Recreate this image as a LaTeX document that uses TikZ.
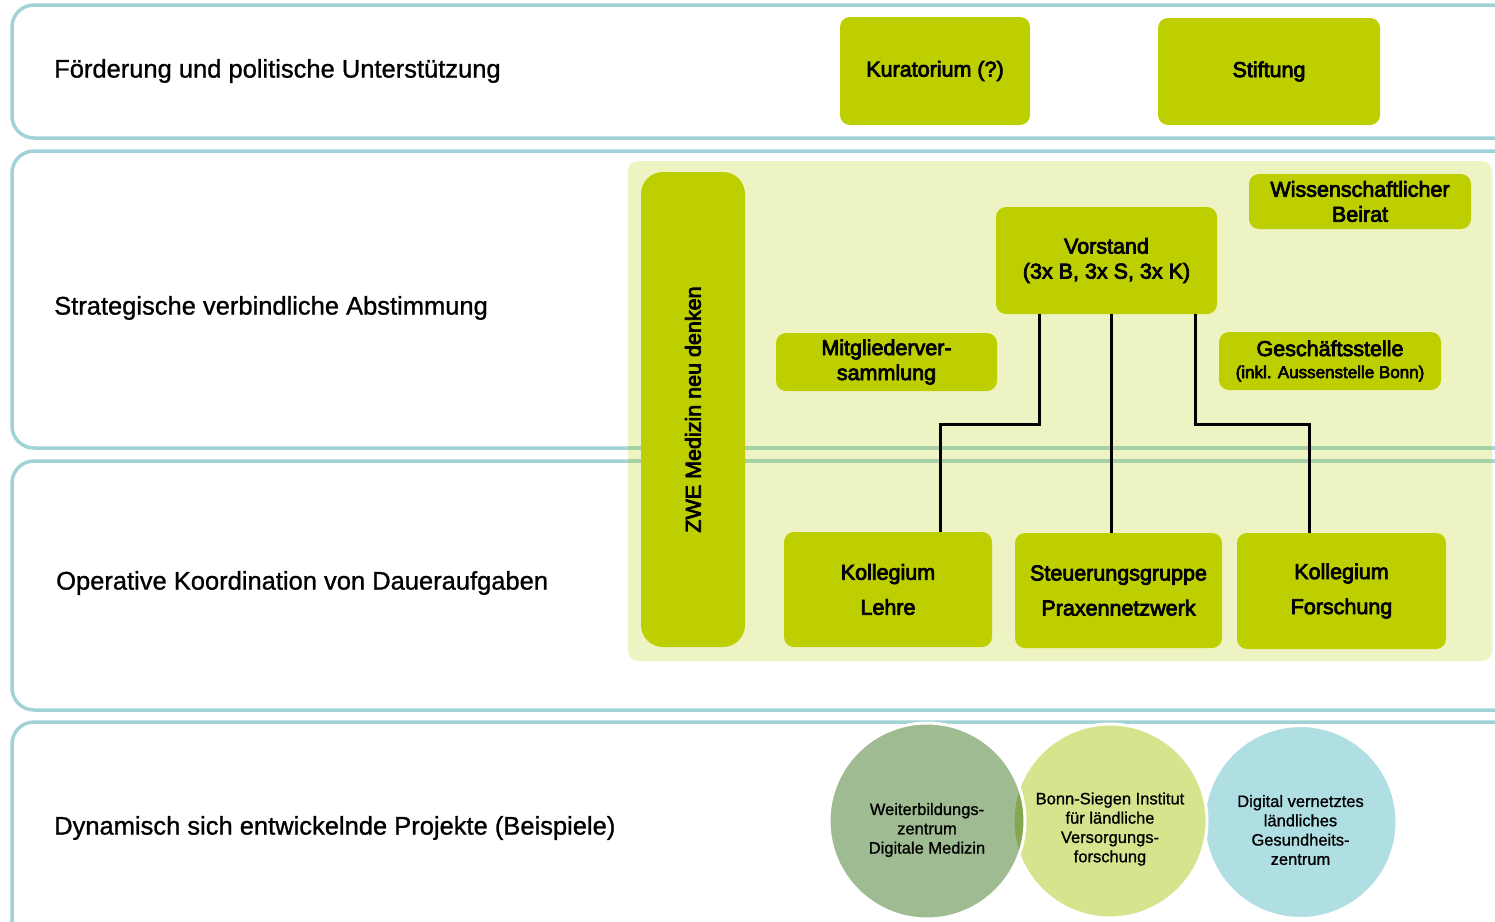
\documentclass[tikz,border=0pt]{standalone}
\usepackage{fontspec}
\setmainfont{Liberation Sans}[FakeBold=1]
\newfontfamily\boxfont[FakeBold=3.5]{Liberation Sans}
\usepackage{xcolor}
\usepackage{tikz}
\usetikzlibrary{positioning, calc}
\definecolor{zwTeal}{RGB}{160, 210, 214}
\definecolor{zwLine}{RGB}{166, 208, 166}
\definecolor{zwGreen}{RGB}{189, 207, 0}
\definecolor{zwPanel}{RGB}{238, 243, 196}
\definecolor{zwSage}{RGB}{159, 187, 145}
\definecolor{zwLime}{RGB}{212, 229, 142}
\definecolor{zwSky}{RGB}{176, 223, 227}
\tikzset{
    band/.style={
        draw=zwTeal,
        line width=3.5pt,
        rounded corners=22pt
    },
    bandlabel/.style={
        anchor=west,
        inner sep=0pt,
        font=\fontsize{25.5}{30}\selectfont
    },
    box/.style={
        rectangle,
        rounded corners=10pt,
        fill=zwGreen,
        align=center,
        inner sep=2pt,
        font=\boxfont\fontsize{21.5}{25}\selectfont
    },
    project/.style={
        circle,
        blend mode=multiply,
        inner sep=0pt
    },
    ring/.style={
        draw=white,
        line width=3pt
    },
    projtext/.style={
        align=center,
        inner sep=0pt,
        font=\fontsize{16.5}{19.3}\selectfont
    },
    conn/.style={
        line width=3pt,
        color=black
    }
}
\begin{document}
\begin{tikzpicture}[x=1pt, y=-1pt]
  \useasboundingbox (0,0) rectangle (1495,921);
  \clip (0,0) rectangle (1495,921);

  % Bands
  \draw[band] (12,5) rectangle (1540,138);
  \draw[band] (12,151) rectangle (1540,448);
  \draw[band] (12,461) rectangle (1540,710);
  \draw[band] (12,722) rectangle (1540,960);

  \node[bandlabel] (lfoerd) at (54,71) {Förderung und politische Unterstützung};
  \node[bandlabel] (lstrat) at (54,308) {Strategische verbindliche Abstimmung};
  \node[bandlabel] (loper) at (56,583) {Operative Koordination von Daueraufgaben};
  \node[bandlabel] (ldyn) at (54,828) {Dynamisch sich entwickelnde Projekte (Beispiele)};

  % Panel
  \fill[zwPanel, rounded corners=10pt] (628,161) rectangle (1492,661);
  \begin{scope}
    \clip[rounded corners=10pt] (628,161) rectangle (1492,661);
    \draw[zwLine, line width=3.5pt] (600,448) -- (1540,448);
    \draw[zwLine, line width=3.5pt] (600,461) -- (1540,461);
  \end{scope}

  % ZWE bar
  \node[box, rounded corners=22pt, minimum width=104pt, minimum height=475pt] (zwe) at (693,409.5) {};
  \node[rotate=90, font=\boxfont\fontsize{21.5}{25}\selectfont] (zwetext) at (zwe.center) {ZWE Medizin neu denken};

  % Top row
  \node[box, minimum width=190pt, minimum height=108pt] (kurat) at (935,71) {Kuratorium (?)};
  \node[box, minimum width=222pt, minimum height=107pt] (stift) at (1269,71.5) {Stiftung};

  % Strategic level
  \node[box, minimum width=222pt, minimum height=55pt] (beirat) at (1360,201.5) {Wissenschaftlicher\\Beirat};
  \node[box, minimum width=221pt, minimum height=107pt] (vorstand) at (1106.5,260.5) {Vorstand\\(3x B, 3x S, 3x K)};
  \node[box, minimum width=221pt, minimum height=58pt] (mitglied) at (886.5,362) {Mitgliederver-\\sammlung};
  \node[box, minimum width=222pt, minimum height=58pt] (gstelle) at (1330,361) {Geschäftsstelle\\[-3pt]{\fontsize{17}{20}\selectfont(inkl. Aussenstelle Bonn)}};

  % Operative level
  \node[box, minimum width=208pt, minimum height=115pt, font=\boxfont\fontsize{21.5}{35}\selectfont] (lehre) at (888,589.5) {Kollegium\\Lehre};
  \node[box, minimum width=207pt, minimum height=115pt, font=\boxfont\fontsize{21.5}{35}\selectfont] (steuer) at (1118.5,590.5) {Steuerungsgruppe\\Praxennetzwerk};
  \node[box, minimum width=209pt, minimum height=116pt, font=\boxfont\fontsize{21.5}{35}\selectfont] (forsch) at (1341.5,591) {Kollegium\\Forschung};

  % Connectors
  \coordinate (jlehre) at (940,424);
  \coordinate (jforsch) at (1309,424);
  \draw[conn] ([xshift=-67.5pt]vorstand.south) |- (jlehre) -- (jlehre |- lehre.north);
  \draw[conn] ([xshift=4.5pt]vorstand.south) -- ([xshift=-7.5pt]steuer.north);
  \draw[conn] ([xshift=88.5pt]vorstand.south) |- (jforsch) -- (jforsch |- forsch.north);

  % Projects (drawn right to left, each over the next)
  \node[project, fill=zwSky, minimum size=193pt] (gesund) at (1300.5,822) {};
  \draw[ring] (gesund.center) circle (96.5pt);
  \node[project, fill=zwLime, minimum size=194pt] (bonn) at (1110,821) {};
  \draw[ring] (bonn.center) circle (97pt);
  \node[project, fill=zwSage, minimum size=196pt] (weiter) at (927,821) {};
  \draw[ring] (weiter.center) circle (98pt);

  \node[projtext] (tweiter) at ([yshift=-9pt]weiter.center) {Weiterbildungs-\\zentrum\\Digitale Medizin};
  \node[projtext] (tbonn) at ([yshift=-8pt]bonn.center) {Bonn-Siegen Institut\\für ländliche\\Versorgungs-\\forschung};
  \node[projtext] (tgesund) at ([yshift=-8pt]gesund.center) {Digital vernetztes\\ländliches\\Gesundheits-\\zentrum};
\end{tikzpicture}
\end{document}
